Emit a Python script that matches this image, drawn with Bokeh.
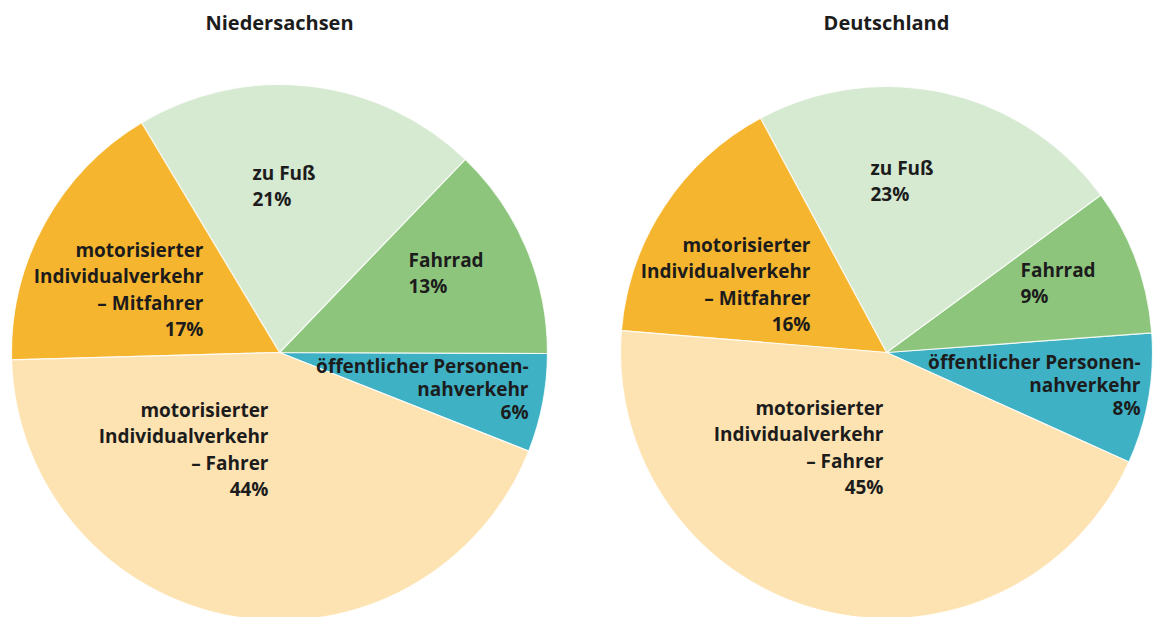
import numpy as np
from bokeh.plotting import figure
from bokeh.models import Range1d, ColumnDataSource
from bokeh.core.properties import value
from bokeh.embed import file_html
from bokeh.resources import INLINE

# ---- data ----
regions = ["Niedersachsen", "Deutschland"]
categories = ["öffentlicher Personennahverkehr", "Fahrrad", "zu Fuß",
              "motorisierter Individualverkehr – Mitfahrer",
              "motorisierter Individualverkehr – Fahrer"]
label_texts = ["öffentlicher Personen-\nnahverkehr", "Fahrrad", "zu Fuß",
               "motorisierter\nIndividualverkehr\n– Mitfahrer",
               "motorisierter\nIndividualverkehr\n– Fahrer"]
values_niedersachsen = [6, 13, 21, 17, 44]
values_deutschland = [8, 9, 23, 16, 45]

# ---- style ----
colors = ["#3eb1c5", "#8ec57d", "#d6e9d1", "#f6b52e", "#fde3b1"]
line_heights = [0.9, 1.02, 1.02, 1.02, 1.02]
text_color = "#1c1c1c"
FONT = "Open Sans"
W, H = 1153, 617

def px(x_img, y_img):
    return x_img, H - y_img

# offsets: (dx from centre, y of first line centre in page px, align)
pies = [
    dict(values=values_niedersachsen, center=(279, 352), r=268, start=-21.6,
         labels=[(249, 366, "right"), (129, 260, "left"), (-27, 173, "left"),
                 (-76, 250, "right"), (-11, 410, "right")]),
    dict(values=values_deutschland, center=(886, 352), r=266, start=-24.3,
         labels=[(254, 362, "right"), (134, 270, "left"), (-16, 168, "left"),
                 (-76, 245, "right"), (-3, 408, "right")]),
]

p = figure(width=W, height=H, output_backend="svg", toolbar_location=None,
           x_range=Range1d(0, W), y_range=Range1d(0, H),
           x_axis_location=None, y_axis_location=None, min_border=0)
p.grid.visible = False
p.outline_line_color = None
p.background_fill_color = "white"
p.border_fill_color = "white"

for region, pie in zip(regions, pies):
    vals = np.array(pie["values"], dtype=float)
    frac = vals / vals.sum()
    ends = np.deg2rad(pie["start"]) + 2 * np.pi * np.cumsum(frac)
    starts = np.concatenate([[np.deg2rad(pie["start"])], ends[:-1]])
    cx, cy = px(*pie["center"])
    src = ColumnDataSource(dict(x=[cx] * len(vals), y=[cy] * len(vals),
                                start=starts, end=ends, color=colors))
    p.wedge(x="x", y="y", radius=pie["r"], start_angle="start", end_angle="end",
            fill_color="color", line_color="white", line_width=1.2,
            line_alpha=0.8, source=src)
    # labels
    for txt, v, (dx, ly, align), lh in zip(label_texts, pie["values"],
                                          pie["labels"], line_heights):
        t = f"{txt}\n{v}%"
        _, y_top = px(0, ly - 14)
        p.text(x=[cx + dx], y=[y_top], text=[t], text_align=align,
               text_baseline="top", text_font=value(FONT), text_font_style="bold",
               text_font_size="19px", text_color=text_color, text_line_height=lh)
    # title
    tx, ty = px(pie["center"][0], 22)
    p.text(x=[tx], y=[ty], text=[region], text_align="center",
           text_baseline="middle", text_font=value(FONT), text_font_style="bold",
           text_font_size="20px", text_color=text_color)

open("out.html", "w").write(file_html(p, INLINE))
